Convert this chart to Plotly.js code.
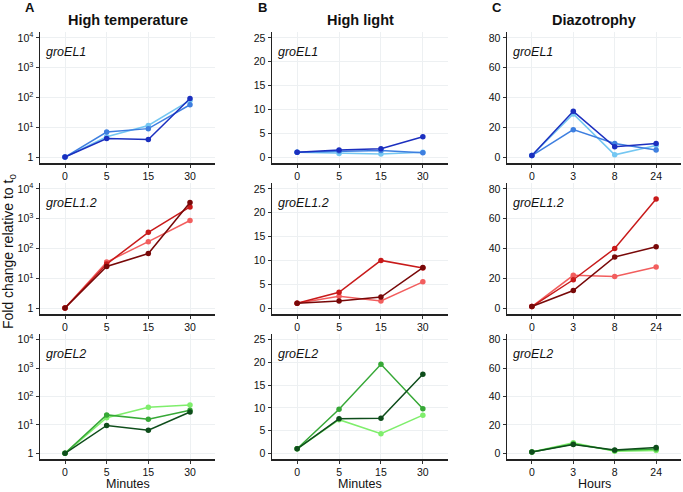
<!DOCTYPE html>
<html>
<head>
<meta charset="utf-8">
<script src="https://cdn.plot.ly/plotly-3.0.1.min.js"></script>
<style>html,body{margin:0;padding:0;background:#fff;}#chart{width:683px;height:492px;}</style>
</head>
<body>
<div id="chart"></div>
<script>
// ---- data ----
const minutes = ['0', '5', '15', '30'];
const hours = ['0', '3', '8', '24'];
const conditions = ['High temperature', 'High light', 'Diazotrophy'];
const genes = ['groEL1', 'groEL1.2', 'groEL2'];
const xTitles = ['Minutes', 'Minutes', 'Hours'];

// each panel: [dark, medium, light]
const tempEL1 = [[1, 4.2, 3.9, 92], [1, 6.9, 9, 57], [1, 4.8, 11.5, 80]];
const tempEL12 = [[1, 25, 68, 3500], [1, 30, 350, 2500], [1, 35, 170, 870]];
const tempEL2 = [[1, 9.6, 6.5, 28.5], [1, 22.5, 15.8, 33], [1, 18, 42, 50]];

const lightEL1 = [[1, 1.5, 1.75, 4.25], [1, 1.25, 1.4, 0.9], [1, 0.75, 0.63, 1.0]];
const lightEL12 = [[1, 1.5, 2.3, 8.5], [1, 3.3, 10.0, 8.4], [1, 2.5, 1.5, 5.5]];
const lightEL2 = [[1, 7.6, 7.7, 17.4], [1, 9.7, 19.6, 9.8], [1, 7.4, 4.3, 8.4]];

const diazEL1 = [[1, 30.7, 6.9, 9.1], [1, 18.4, 9.1, 4.7], [1, 29, 1.5, 7.8]];
const diazEL12 = [[1, 11.8, 34.3, 41.2], [1, 19, 40, 73.3], [1, 22, 21.2, 27.6]];
const diazEL2 = [[1, 6.2, 2.4, 4.1], [1, 6.6, 1.9, 3.0], [1, 7.4, 1.4, 2.0]];

const logTickVals = [1, 10, 100, 1000, 10000];
const logTickText = ['1', '10<sup>1</sup>', '10<sup>2</sup>', '10<sup>3</sup>', '10<sup>4</sup>'];
const lightTickVals = [0, 5, 10, 15, 20, 25];
const diazTickVals = [0, 20, 40, 60, 80];

// ---- styling ----
const palettes = [
  ['#1b2fbf', '#3e7fe0', '#74c7f2'],
  ['#780808', '#c81a1a', '#f25e5e'],
  ['#0e4d1b', '#36a836', '#7fee6c']
];

const W = 683, H = 492;
const colPx = [[40, 215], [272, 448], [507, 681]];
const rowPx = [[32, 163], [183, 314], [334, 459]];

const panels = [
  [tempEL1, lightEL1, diazEL1],
  [tempEL12, lightEL12, diazEL12],
  [tempEL2, lightEL2, diazEL2]
];

const font = 'Liberation Sans, Arial, Helvetica, sans-serif';
const traces = [];
const layout = {
  width: W, height: H,
  margin: {l: 0, r: 0, t: 0, b: 0},
  paper_bgcolor: '#fff', plot_bgcolor: '#fff',
  showlegend: false,
  font: {family: font, size: 11, color: '#111'},
  annotations: []
};

for (let r = 0; r < 3; r++) {
  for (let c = 0; c < 3; c++) {
    const idx = r * 3 + c + 1;
    const xa = 'x' + (idx === 1 ? '' : idx);
    const ya = 'y' + (idx === 1 ? '' : idx);
    const cats = c === 2 ? hours : minutes;
    const data = panels[r][c];
    for (let s = 2; s >= 0; s--) {
      traces.push({
        type: 'scatter', mode: 'lines+markers',
        x: cats, y: data[s], xaxis: xa, yaxis: ya,
        line: {color: palettes[r][s], width: 1.5},
        marker: {color: palettes[r][s], size: 5.5},
        hoverinfo: 'skip'
      });
    }
    const xd = [colPx[c][0] / W, colPx[c][1] / W];
    const yd = [1 - rowPx[r][1] / H, 1 - rowPx[r][0] / H];
    const xKey = 'xaxis' + (idx === 1 ? '' : idx);
    const yKey = 'yaxis' + (idx === 1 ? '' : idx);
    layout[xKey] = {
      domain: xd, anchor: ya, type: 'category',
      range: [-0.6, 3.6],
      showline: true, linecolor: '#222', linewidth: 1.5,
      ticks: 'outside', ticklen: 3, tickcolor: '#333', tickwidth: 1,
      showgrid: true, gridcolor: '#edf0f2', gridwidth: 1,
      zeroline: false, fixedrange: true,
      tickfont: {size: 10.5, color: '#111', family: font}
    };
    const yax = {
      domain: yd, anchor: xa,
      showline: true, linecolor: '#222', linewidth: 1.5,
      ticks: 'outside', ticklen: 3, tickcolor: '#333', tickwidth: 1,
      showgrid: true, gridcolor: '#edf0f2', gridwidth: 1,
      zeroline: false, fixedrange: true,
      tickfont: {size: 10.5, color: '#111', family: font}
    };
    if (c === 0) {
      yax.type = 'log';
      yax.range = [-0.2, 4.2];
      yax.tickmode = 'array';
      yax.tickvals = logTickVals;
      yax.ticktext = logTickText;
    } else if (c === 1) {
      yax.range = [-1.25, 26.25];
      yax.tickmode = 'array';
      yax.tickvals = lightTickVals;
    } else {
      yax.range = [-4, 84];
      yax.tickmode = 'array';
      yax.tickvals = diazTickVals;
    }
    layout[yKey] = yax;
    layout.annotations.push({
      text: '<i>' + genes[r] + '</i>',
      xref: 'paper', yref: 'paper',
      x: (colPx[c][0] + 4) / W, y: 1 - (rowPx[r][0] + 20) / H,
      xanchor: 'left', yanchor: 'middle', showarrow: false,
      font: {size: 12.5, color: '#111', family: font}
    });
  }
}

const letters = ['A', 'B', 'C'];
const letterX = [30, 262, 497];
for (let c = 0; c < 3; c++) {
  layout.annotations.push({
    text: '<b>' + conditions[c] + '</b>',
    xref: 'paper', yref: 'paper',
    x: (colPx[c][0] + colPx[c][1]) / 2 / W, y: 1 - 20 / H,
    xanchor: 'center', yanchor: 'middle', showarrow: false,
    font: {size: 14.5, color: '#111', family: font}
  });
  layout.annotations.push({
    text: '<b>' + letters[c] + '</b>',
    xref: 'paper', yref: 'paper',
    x: letterX[c] / W, y: 1 - 8 / H,
    xanchor: 'center', yanchor: 'middle', showarrow: false,
    font: {size: 13, color: '#111', family: font}
  });
  layout.annotations.push({
    text: xTitles[c],
    xref: 'paper', yref: 'paper',
    x: (colPx[c][0] + colPx[c][1]) / 2 / W, y: 0,
    xanchor: 'center', yanchor: 'bottom', showarrow: false,
    borderpad: 0,
    font: {size: 12.5, color: '#111', family: font}
  });
}
layout.annotations.push({
  text: 'Fold change relative to t<sub>0</sub>',
  xref: 'paper', yref: 'paper',
  x: 9 / W, y: 1 - 252 / H, textangle: -90,
  xanchor: 'center', yanchor: 'middle', showarrow: false,
  font: {size: 14, color: '#111', family: font}
});

Plotly.newPlot('chart', traces, layout, {displayModeBar: false, staticPlot: true});
</script>
</body>
</html>
